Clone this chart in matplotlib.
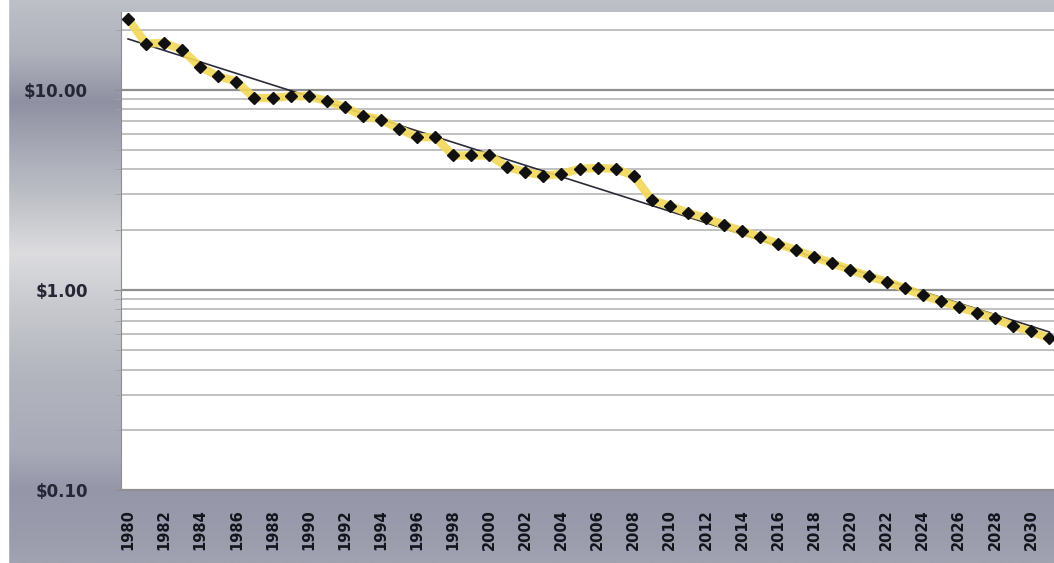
import numpy as np
import matplotlib
matplotlib.use("Agg")
import matplotlib.pyplot as plt
from matplotlib.colors import LinearSegmentedColormap
from matplotlib.ticker import FixedLocator, FuncFormatter, NullFormatter

# data (price per year, log scale)
years = list(range(1980, 2032))
prices = [22.6, 17.0, 17.2, 15.8, 13.0, 11.7, 11.0, 9.1, 9.1, 9.3,
          9.3, 8.8, 8.2, 7.4, 7.1, 6.4, 5.8, 5.8, 4.7, 4.7,
          4.7, 4.12, 3.89, 3.72, 3.8, 4.03, 4.07, 4.03, 3.72, 2.82,
          2.63, 2.43, 2.29, 2.11, 1.97, 1.84, 1.70, 1.58, 1.46, 1.36,
          1.26, 1.17, 1.10, 1.02, 0.94, 0.88, 0.82, 0.77, 0.72, 0.66,
          0.62, 0.575]
label_years = list(range(1980, 2031, 2))
y_major = [0.1, 1, 10]

fig = plt.figure(figsize=(10.54, 5.63), dpi=100)

# gray background gradient behind the plot area
bg = fig.add_axes([0, 0, 1, 1], zorder=0)
grad_cmap = LinearSegmentedColormap.from_list("bg", [
    (0.00, "#bdc0c7"), (0.09, "#b0b2bc"), (0.18, "#8f91a3"),
    (0.27, "#a9abb7"), (0.36, "#c1c3c9"), (0.45, "#dcdcdf"),
    (0.54, "#c8cacf"), (0.68, "#b1b3bd"), (0.80, "#a8aab8"),
    (0.87, "#9597a9"), (0.96, "#9b9dad"), (1.00, "#a1a3b1")])
bg.imshow(np.linspace(0, 1, 256).reshape(-1, 1), aspect="auto",
          cmap=grad_cmap, extent=[0, 1, 0, 1], origin="upper")
bg.axvspan(0, 8 / 1054, color="white")
bg.set_xlim(0, 1)
bg.set_ylim(0, 1)
bg.axis("off")

ax = fig.add_axes([121 / 1054, 73 / 563, 1 - 121 / 1054, 478 / 563], zorder=1)
ax.set_facecolor("white")
ax.set_yscale("log")

# exponential trend line fitted on the data
coef = np.polyfit(years, np.log10(prices), 1)
trend = 10 ** np.polyval(coef, years)
ax.plot(years, trend, color="#2c2c3a", lw=1.2, zorder=3)

ax.plot(years, prices, color="#f2d859", lw=6, solid_joinstyle="round",
        solid_capstyle="round", alpha=0.9, zorder=4)
ax.plot(years, prices, linestyle="none", marker="D", markersize=6.5,
        color="#111111", zorder=5)

ax.set_xlim(1979.61, 2031.27)
ax.set_ylim(0.1, 24.5)

minor = [m * 10.0 ** e for e in (-1, 0, 1) for m in range(2, 10)]
ax.yaxis.set_major_locator(FixedLocator(y_major))
ax.yaxis.set_minor_locator(FixedLocator(minor))
ax.yaxis.set_major_formatter(FuncFormatter(lambda v, p: "${:.2f}".format(v)))
ax.yaxis.set_minor_formatter(NullFormatter())
ax.grid(True, which="major", axis="y", color="#8e8e8e", lw=1.6, zorder=1)
ax.grid(True, which="minor", axis="y", color="#bcbcbc", lw=1.3, zorder=1)

ax.set_xticks(label_years)
ax.set_xticklabels([str(y) for y in label_years], rotation=90,
                   fontsize=10.5, fontweight="bold", color="#14141c")
ax.tick_params(axis="x", length=0, pad=14)
ax.tick_params(axis="y", which="major", labelsize=12, labelcolor="#262634",
               length=5, color="#8e8e8e", pad=19)
ax.tick_params(axis="y", which="minor", length=4, color="#a0a0a0")
for t in ax.get_yticklabels():
    t.set_fontweight("bold")

for s in ("top", "right"):
    ax.spines[s].set_visible(False)
ax.spines["left"].set_color("#8e8e8e")
ax.spines["bottom"].set_color("#8e8e8e")
ax.spines["bottom"].set_linewidth(1.4)

fig.savefig("out.png", dpi=100)
